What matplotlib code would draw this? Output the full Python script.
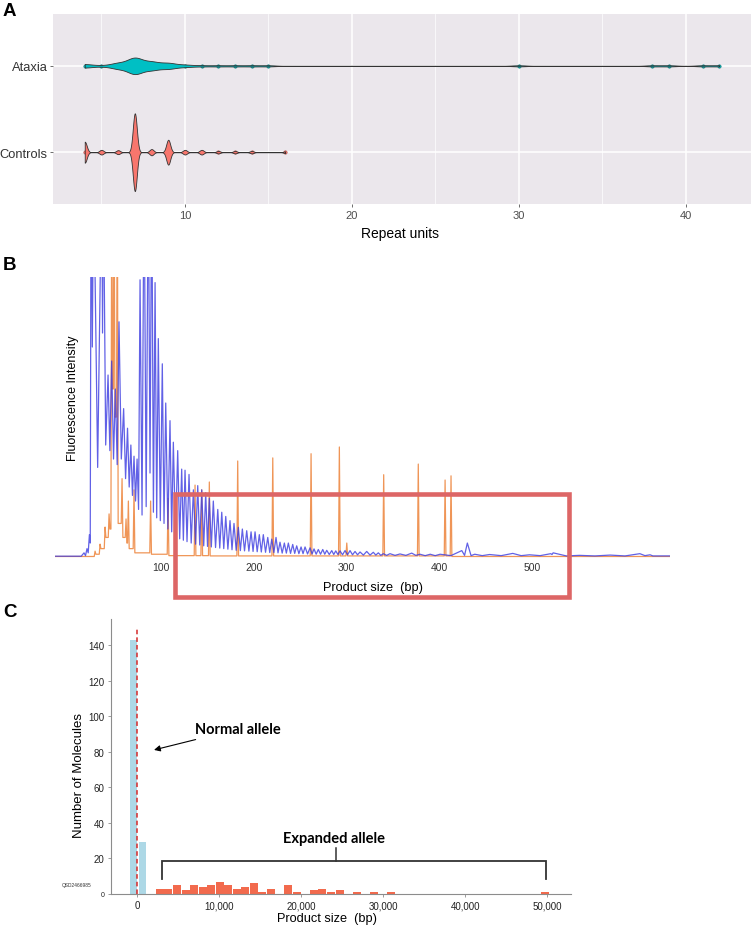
"""
Three-panel figure: (A) repeat-unit violins for ataxia vs controls,
(B) capillary electrophoresis trace, (C) long-read product size histogram.
"""
import matplotlib
matplotlib.use("Agg")
import matplotlib.pyplot as plt
import numpy as np
from matplotlib.patches import Rectangle
from matplotlib.ticker import FuncFormatter

W, H, DPI = 751, 928, 100

# ---- panel A: repeat units (value -> number of alleles)
GROUPS         = ["Ataxia", "Controls"]
ATAXIA_UNITS   = [4, 5, 6, 7, 8, 9, 10, 11, 12, 13, 14, 15, 30, 38, 39, 41, 42]
ATAXIA_COUNTS  = [3, 1, 5, 14, 7, 5, 2, 1, 1, 1, 1, 1, 1, 1, 1, 1, 1]
CONTROL_UNITS  = [4, 5, 6, 7, 8, 9, 10, 11, 12, 13, 14, 16]
CONTROL_COUNTS = [27, 6, 5, 100, 8, 32, 6, 6, 3, 3, 3, 2]
A_TICKS = [10, 20, 30, 40]

# ---- panel B: electropherogram, peaks (bp, relative intensity)
BLUE_PEAK_BP = [16.7, 19.9, 22.5, 24.3, 27.0, 35.8, 37.5, 42.6, 46.5, 50.5,
                54.4, 59.4, 63.6, 67.2, 70.6, 73.9, 77.1, 81.4, 86.0, 89.7,
                93.3, 96.8, 101.1, 104.8, 109.4, 113.0, 117.7, 122.0, 125.6, 129.9,
                134.6, 139.3, 143.6, 147.9, 151.8, 156.1, 160.9, 165.2, 169.5, 174.1,
                178.4, 183.1, 187.4, 192.1, 196.8, 201.1, 205.7, 210.0, 214.8, 219.1,
                223.7, 228.0, 232.7, 237.0, 241.7, 246.0, 250.7, 255.0, 260.4, 264.7,
                269.3, 274.1, 278.4, 283.8, 288.1, 292.7, 298.1, 303.5, 308.9, 314.3,
                321.5, 328.6, 334.0, 339.4, 346.6, 357.4, 370.0, 379.0, 390.0, 400.6,
                424.0, 430.0, 438.0, 454.0, 479.0, 497.0, 520.0, 522.5, 551.0, 584.0,
                616.0, 627.0]
BLUE_PEAK_H = [1.5, 3, 8, 140, 140, 140, 140, 65, 70, 60,
               84, 53, 46, 40, 36, 35, 99, 140, 140, 140,
               98, 78, 69, 55, 48.7, 41, 38, 31.4, 31, 29.5,
               24, 25.5, 24, 23, 21, 20, 17, 16, 14.5, 13,
               12, 10.6, 10, 9.4, 9, 9, 8, 8, 7, 6.4,
               7, 5.3, 5, 5, 4.5, 4, 3.6, 3.6, 3.3, 2.9,
               2.7, 2.7, 2.4, 2.3, 2.2, 2.2, 2.3, 2.3, 2.0, 1.8,
               2.0, 1.7, 1.5, 1.2, 1.2, 1.1, 1.4, 1.0, 1.0, 1.0,
               2.3, 5.0, 1.0, 0.9, 1.3, 0.8, 1.2, 1.5, 0.6, 0.7,
               1.2, 0.8]
# trough between each pair of neighbouring blue peaks
BLUE_VALLEY_H = [0.5, 1.5, 5, 75, 32, 80, 40, 38, 35, 33,
                 35, 28, 25, 22, 20, 17, 15, 18, 30, 16,
                 14, 13, 12, 10, 9, 8, 6.5, 6, 5.5, 5,
                 4.6, 4.3, 4, 3.8, 3.6, 3.4, 3.2, 3, 2.8, 2.6,
                 2.4, 2.3, 2.2, 2.1, 2, 1.9, 1.8, 1.7, 1.6, 1.6,
                 1.5, 1.4, 1.4, 1.3, 1.3, 1.2, 1.2, 1.1, 1.1, 1.0,
                 1.0, 1.0, 0.9, 0.9, 0.9, 0.8, 0.8, 0.8, 0.8, 0.7,
                 0.7, 0.7, 0.6, 0.6, 0.6, 0.6, 0.6, 0.5, 0.5, 0.5,
                 0.6, 0.5, 0.5, 0.5, 0.5, 0.5, 0.9, 0.4, 0.4, 0.4,
                 0.5]
ORANGE_PEAK_BP = [28.6, 34.0, 39.4, 43.7, 46.6, 49.1, 52.6, 57.7, 62.0, 64.5,
                  70.6, 88.5, 107.3, 136.4, 143.6, 151.8, 182.4, 220.2, 261.5, 292.0,
                  300.0, 339.8, 377.1, 406.0, 412.4]
ORANGE_PEAK_H = [2.1, 4.6, 10.7, 15.4, 140, 140, 140, 28, 13.6, 20,
                 24, 20, 21, 25.7, 24, 26.8, 34.3, 35.4, 36.9, 39.3,
                 5, 29.4, 33.2, 27.5, 29]
ORANGE_VALLEY_H = [1, 3, 7, 10, 60, 50, 12, 7, 5, 3,
                   1.5, 1, 0.5, 0.5, 0.5, 0.4, 0.4, 0.4, 0.4, 0.4,
                   0.4, 0.4, 0.4, 0.4]
B_RANGE = (-14.6, 648.5)
B_TICKS = [100, 200, 300, 400, 500]
HIGHLIGHT_BP = (114.8, 539.6)

# ---- panel C: molecules per product-size bin
NORMAL_LEFT   = [-920, 200]
NORMAL_COUNT  = [143, 29]
EXPANDED_LEFT = [2280, 3290, 4320, 5410, 6430, 7520, 8540, 9560, 10570, 11630,
                 12650, 13740, 14760, 15780, 17930, 18950, 21060, 22070, 23100, 24190,
                 26260, 28370, 30480, 49230]
EXPANDED_COUNT = [3, 3, 5, 2, 5, 4, 5, 7, 5, 3,
                  4, 6, 1, 3, 5, 1, 2, 3, 1, 2,
                  1, 1, 1, 1]
C_XTICKS = [0, 10000, 20000, 30000, 40000, 50000]
C_YTICKS = [0, 20, 40, 60, 80, 100, 120, 140]

TEAL, SALMON = "#00BFC4", "#F8766D"
BLUE, ORANGE = "#3a3ae0", "#ee8a45"
NARROW = ["Liberation Sans Narrow", "Liberation Sans", "DejaVu Sans"]
plt.rcParams["font.family"] = ["Liberation Sans", "DejaVu Sans"]

fig = plt.figure(figsize=(W / DPI, H / DPI), dpi=DPI)


def px_axes(left, top, right, bottom):
    return fig.add_axes([left / W, 1 - bottom / H, (right - left) / W, (bottom - top) / H])


def ftext(x, y, s, **kw):
    return fig.text(x / W, 1 - y / H, s, **kw)


# ------------------------------------------------------------------ A
axA = px_axes(53, 15, 751, 205)
axA.set_facecolor("#EBE7EC")
axA.set_xlim(2.1, 43.9)
axA.set_ylim(2.6, 0.4)
for s in axA.spines.values():
    s.set_visible(False)
axA.set_xticks(A_TICKS)
axA.set_xticks([5, 15, 25, 35], minor=True)
axA.set_yticks([1, 2])
axA.set_yticklabels(GROUPS, fontsize=9.3, color="#1a1a1a")
axA.tick_params(axis="x", labelsize=8, colors="#333333", labelcolor="#4D4D4D", length=2.5, width=0.5, pad=2)
axA.tick_params(axis="x", which="minor", length=0)
axA.tick_params(axis="y", length=2.5, width=0.5, colors="#333333", pad=1.5)
axA.grid(which="major", color="white", lw=1.1)
axA.grid(which="minor", axis="x", color="white", lw=0.5)
axA.set_axisbelow(True)

violins = [(ATAXIA_UNITS, ATAXIA_COUNTS, 0.45, 0.096, TEAL, "#137a7c"),
           (CONTROL_UNITS, CONTROL_COUNTS, 0.12, 0.45, SALMON, "#a84a44")]
for pos, (units, counts, bw, max_half, col, dot_edge) in enumerate(violins, start=1):
    grid = np.linspace(min(units), max(units), 3000)
    u = np.asarray(units, float)[:, None]
    c = np.asarray(counts, float)[:, None]
    dens = (c * np.exp(-0.5 * ((grid[None, :] - u) / bw) ** 2)).sum(axis=0)
    half = dens / dens.max() * max_half
    # points sit under the violin body, so they only show where it is thin
    axA.scatter(units, [pos] * len(units), s=6, color=col, edgecolors=dot_edge,
                linewidths=0.4, zorder=2.5)
    axA.fill_between(grid, pos - half, pos + half, facecolor=col, edgecolor="#333333",
                     linewidth=0.6, zorder=3)

ftext(400, 234, "Repeat units", fontsize=10, ha="center", va="center")

# ------------------------------------------------------------------ B
axB = px_axes(55, 278, 670, 560)
axB.set_xlim(*B_RANGE)
axB.set_ylim(-0.7, 100)
for s in axB.spines.values():
    s.set_visible(False)
axB.set_yticks([])
axB.set_xticks(B_TICKS)
axB.tick_params(axis="x", length=0, pad=2, labelsize=7.5, labelcolor="#333333")
for lab in axB.get_xticklabels():
    lab.set_family(NARROW)


def blue_trace(peaks, heights, valleys):
    xs, ys = [B_RANGE[0], peaks[0] - 3], [0.3, 0.3]
    for i, (p, h) in enumerate(zip(peaks, heights)):
        if i > 0:
            xs.append((peaks[i - 1] + p) / 2)
            ys.append(valleys[i - 1])
        xs.append(p)
        ys.append(h)
    xs += [peaks[-1] + 3, B_RANGE[1]]
    ys += [0.4, 0.4]
    return xs, ys


def spike_trace(peaks, heights, valleys, half=0.9):
    xs, ys = [B_RANGE[0], peaks[0] - 3], [0.2, 0.2]
    for i, (p, h) in enumerate(zip(peaks, heights)):
        left = valleys[i - 1] if i > 0 else 0.2
        right = valleys[i] if i < len(valleys) else 0.2
        xs += [p - half, p, p + half]
        ys += [left, h, right]
    xs.append(B_RANGE[1])
    ys.append(0.2)
    return xs, ys


bx, by = blue_trace(BLUE_PEAK_BP, BLUE_PEAK_H, BLUE_VALLEY_H)
ox, oy = spike_trace(ORANGE_PEAK_BP, ORANGE_PEAK_H, ORANGE_VALLEY_H)
axB.plot(ox, oy, color=ORANGE, lw=0.9, alpha=0.9, zorder=2)
axB.plot(bx, by, color=BLUE, lw=0.9, alpha=0.8, zorder=3)
axB.add_patch(Rectangle((HIGHLIGHT_BP[0], -14.3), HIGHLIGHT_BP[1] - HIGHLIGHT_BP[0], 36.8,
                        fill=False, edgecolor="#dd6666", lw=3.3, clip_on=False, zorder=5))

ftext(73, 398, "Fluorescence Intensity", fontsize=9, rotation=90, ha="center", va="center")
ftext(373, 588, "Product size  (bp)", fontsize=9.2, family=NARROW, ha="center", va="center")

# ------------------------------------------------------------------ C
axC = px_axes(110.6, 620, 571, 895)
axC.set_xlim(-3256, 52890)
axC.set_ylim(0, 154.6)
axC.spines["top"].set_visible(False)
axC.spines["right"].set_visible(False)
for side in ("left", "bottom"):
    axC.spines[side].set_color("#8c8c8c")
    axC.spines[side].set_linewidth(0.8)
axC.set_xticks(C_XTICKS)
axC.set_yticks(C_YTICKS)
axC.xaxis.set_major_formatter(FuncFormatter(lambda v, _: f"{int(v):,}"))
axC.tick_params(length=2.5, width=0.6, color="#8c8c8c", labelsize=7, labelcolor="#222222", pad=2)
for lab in axC.get_xticklabels() + axC.get_yticklabels():
    lab.set_family(NARROW)
axC.get_yticklabels()[0].set_fontsize(5)

axC.bar(NORMAL_LEFT, NORMAL_COUNT, width=880, align="edge", color="#ADD8E6", zorder=2)
axC.bar(EXPANDED_LEFT, EXPANDED_COUNT, width=960, align="edge", color="#F26A4D", zorder=2)
axC.plot([0, 0], [0, 149.5], color="#d42a2a", lw=1.1, ls=(0, (3, 2)), zorder=3)

axC.annotate("Normal allele", xy=(2040, 81), xytext=(7000, 92.7),
             fontsize=10.5, fontweight="bold", family=["Lato", "DejaVu Sans"],
             ha="left", va="center",
             arrowprops=dict(arrowstyle="-|>", color="black", lw=0.8,
                             mutation_scale=9, shrinkA=2, shrinkB=0))
axC.text(23990, 31.5, "Expanded allele", fontsize=10.5, fontweight="bold",
         family=["Lato", "DejaVu Sans"], ha="center", va="center")
bracket_x = [2980, 2980, 49900, 49900]
bracket_y = [8.4, 18.7, 18.7, 8.4]
axC.plot(bracket_x, bracket_y, color="#333333", lw=1.3, solid_joinstyle="miter")
axC.plot([24230, 24230], [18.7, 25.8], color="#333333", lw=1.1)

ftext(79, 776, "Number of Molecules", fontsize=9.5, rotation=90, ha="center", va="center")
ftext(327, 919, "Product size  (bp)", fontsize=9.2, family=NARROW, ha="center", va="center")
ftext(77, 886, "QSD2466985", fontsize=3.5, ha="center", va="center", color="#333333")

# panel letters
for letter, y in (("A", 12), ("B", 265), ("C", 613)):
    ftext(3, y, letter, fontsize=13.5, fontweight="bold", ha="left", va="center")

fig.savefig("out.png", dpi=DPI)
